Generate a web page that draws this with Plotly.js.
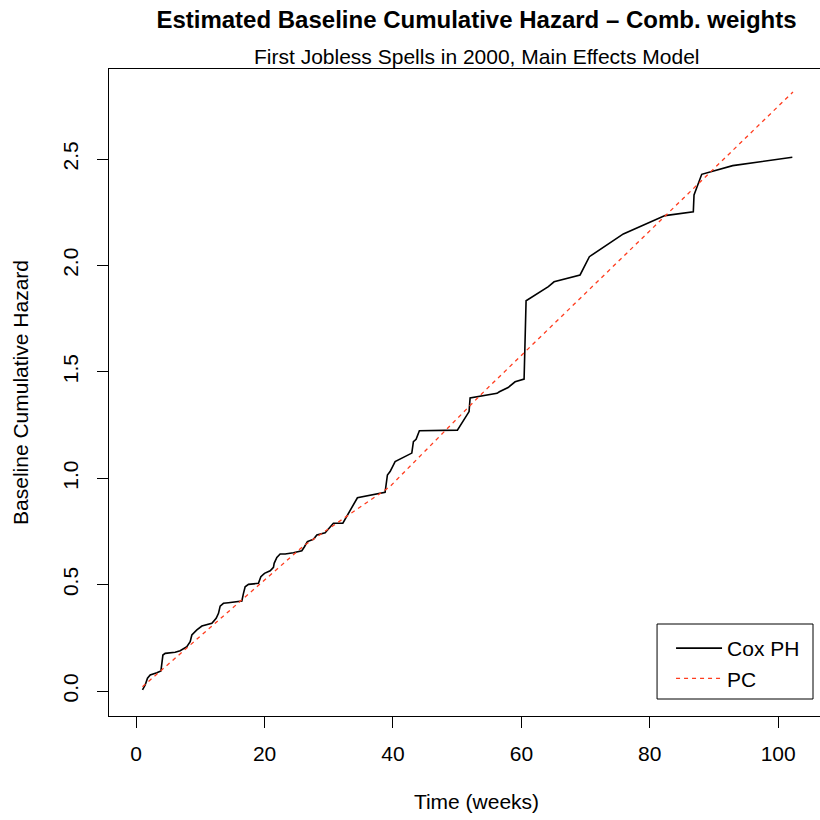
<!DOCTYPE html>
<html>
<head>
<meta charset="utf-8">
<script src="https://cdn.plot.ly/plotly-3.0.1.min.js"></script>
<style>
  html, body { margin: 0; padding: 0; overflow: hidden; background: #fff; }
  #chart { width: 850px; height: 820px; }
</style>
</head>
<body>
<div id="chart"></div>
<script>
// Cox PH baseline cumulative hazard (Breslow-type estimate), time in weeks
const coxTime = [0.98, 1.40, 1.76, 2.18, 3.22, 3.85, 4.16, 4.52, 6.07, 6.85, 7.89, 8.41, 8.67, 9.45,
  10.23, 11.01, 11.79, 12.46, 12.82, 13.08, 13.59, 14.37, 16.46, 16.71, 16.97, 17.49, 19.04, 19.42,
  19.98, 20.87, 21.38, 21.49, 21.91, 22.42, 23.20, 24.49, 25.80, 26.21, 26.67, 27.61, 28.14, 29.43,
  30.21, 30.72, 32.19, 32.81, 34.46, 38.77, 39.13, 39.55, 40.33, 42.93, 43.18, 43.60, 44.11, 50.03,
  51.85, 52.01, 56.21, 56.57, 57.93, 59.02, 60.42, 60.73, 64.20, 65.09, 69.14, 70.59, 75.88, 82.37,
  86.78, 86.89, 88.09, 92.91, 102.2];
const coxHazard = [0.005, 0.028, 0.060, 0.075, 0.086, 0.094, 0.169, 0.177, 0.182, 0.189, 0.208, 0.232,
  0.263, 0.287, 0.305, 0.310, 0.318, 0.342, 0.365, 0.399, 0.412, 0.415, 0.423, 0.459, 0.490, 0.501,
  0.506, 0.537, 0.553, 0.565, 0.581, 0.600, 0.628, 0.644, 0.644, 0.650, 0.659, 0.678, 0.702, 0.713,
  0.733, 0.744, 0.772, 0.788, 0.789, 0.822, 0.908, 0.934, 1.015, 1.031, 1.078, 1.118, 1.172, 1.183,
  1.223, 1.226, 1.313, 1.377, 1.399, 1.406, 1.426, 1.453, 1.466, 1.834, 1.900, 1.923, 1.955, 2.041,
  2.148, 2.234, 2.252, 2.331, 2.428, 2.469, 2.508];

// Piecewise-constant (PC) hazard model, cumulative
const pcTime = [0.98, 26.0, 39.5, 53.6, 102.3];
const pcHazard = [0.020, 0.680, 0.960, 1.390, 2.815];

const xTicks = [0, 20, 40, 60, 80, 100];
const yTicks = [0, 0.5, 1.0, 1.5, 2.0, 2.5];

const FONT = "Liberation Sans, Arial, Helvetica, sans-serif";
const BASE = 21;

const traces = [
  {
    x: coxTime, y: coxHazard, type: "scatter", mode: "lines", name: "Cox PH",
    line: { color: "#000000", width: 1.6 }
  },
  {
    x: pcTime, y: pcHazard, type: "scatter", mode: "lines", name: "PC",
    line: { color: "#ff3c1e", width: 1.3, dash: "4px,4px" }
  }
];

const layout = {
  width: 850, height: 820,
  paper_bgcolor: "#ffffff", plot_bgcolor: "#ffffff",
  margin: { l: 109, r: 6, t: 69, b: 104 },
  font: { family: FONT, size: BASE, color: "#000" },
  title: {
    text: "<b>Estimated Baseline Cumulative Hazard \u2013 Comb. weights</b>",
    font: { family: FONT, size: 24, color: "#000" },
    x: 0.5, xref: "paper", y: 1 - 20 / 820, yref: "container", yanchor: "middle"
  },
  xaxis: {
    range: [-4.235, 110.25], tickvals: xTicks, ticks: "outside", ticklen: 11,
    tickwidth: 1, tickcolor: "#000", showgrid: false, zeroline: false,
    showline: true, linecolor: "#000", linewidth: 1.3, mirror: true,
    ticklabelstandoff: 7,
    tickfont: { family: FONT, size: BASE, color: "#000" },
    title: { text: "Time (weeks)", font: { family: FONT, size: BASE, color: "#000" }, standoff: 30 }
  },
  yaxis: {
    range: [-0.1175, 2.923], tickvals: yTicks, tickformat: ".1f", ticks: "outside",
    ticklen: 11, tickwidth: 1, tickcolor: "#000", tickangle: -90,
    showgrid: false, zeroline: false,
    showline: true, linecolor: "#000", linewidth: 1.3, mirror: true,
    ticklabelstandoff: 10,
    tickfont: { family: FONT, size: BASE, color: "#000" },
    title: { text: "Baseline Cumulative Hazard", font: { family: FONT, size: BASE, color: "#000" }, standoff: 25 }
  },
  annotations: [{
    text: "First Jobless Spells in 2000, Main Effects Model",
    xref: "paper", yref: "paper", x: 0.5, y: (716 - 57) / 647,
    xanchor: "center", yanchor: "middle", showarrow: false,
    font: { family: FONT, size: BASE, color: "#000" }
  }],
  shapes: [{
    type: "rect", xref: "paper", yref: "paper",
    x0: (657 - 108.8) / 735.2, x1: (813 - 108.8) / 735.2,
    y0: (716 - 699) / 647, y1: (716 - 624) / 647,
    line: { color: "#000", width: 1 }, fillcolor: "rgba(0,0,0,0)"
  }],
  showlegend: true,
  legend: {
    x: (671 - 108.8) / 735.2, y: (716 - 628) / 647, xanchor: "left", yanchor: "top",
    bgcolor: "rgba(0,0,0,0)", borderwidth: 0, itemwidth: 46,
    font: { family: FONT, size: BASE, color: "#000" }
  }
};

Plotly.newPlot("chart", traces, layout, { displayModeBar: false, staticPlot: true });
</script>
</body>
</html>
